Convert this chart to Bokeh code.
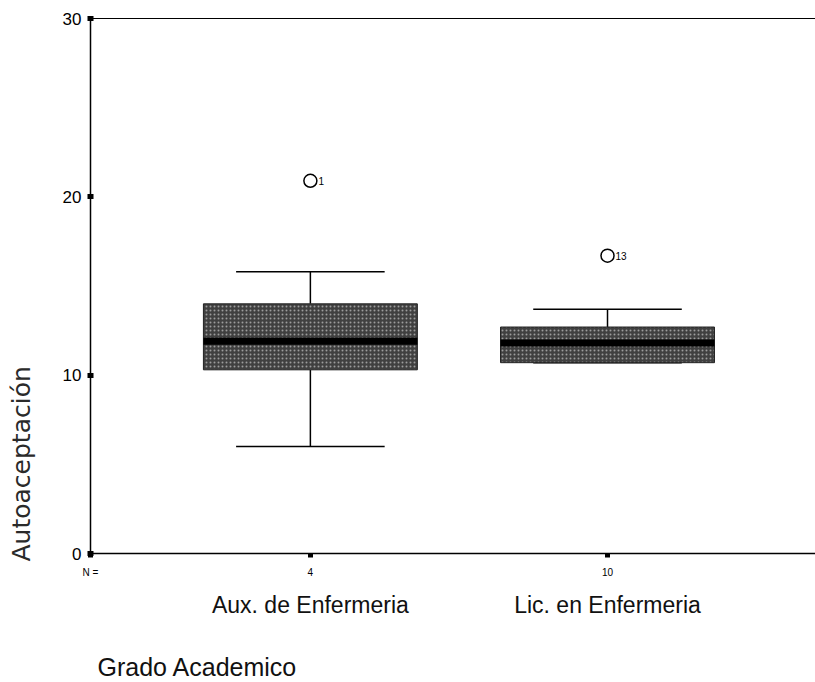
import numpy as np
from bokeh.plotting import figure
from bokeh.models import (ColumnDataSource, Range1d, FixedTicker, LinearAxis,
                          Title)
from bokeh.core.properties import value
from bokeh.embed import file_html
from bokeh.resources import INLINE

# ---- data ----
groups = ["Aux. de Enfermeria", "Lic. en Enfermeria"]
group_pos = [1, 2]
counts = ["4", "10"]
lower_whisker = [6.0, 10.7]
q1 = [10.3, 10.7]
median = [11.9, 11.8]
q3 = [14.0, 12.7]
upper_whisker = [15.8, 13.7]
outlier_x = [1, 2]
outlier_y = [20.9, 16.7]
outlier_id = ["1", "13"]
y_ticks = [0, 10, 20, 30]
x_start, x_end = 0.26, 2.70

box_w = 0.72
cap_w = 0.5

xs = np.array(group_pos, dtype=float)
src = ColumnDataSource(dict(
    x=xs, q1=q1, q3=q3, med=median, lo=lower_whisker, hi=upper_whisker,
    cap_l=xs - cap_w / 2, cap_r=xs + cap_w / 2,
    box_l=xs - box_w / 2, box_r=xs + box_w / 2,
))
out_src = ColumnDataSource(dict(x=outlier_x, y=outlier_y, t=outlier_id))

p = figure(width=815, height=682, output_backend="svg", toolbar_location=None,
           x_range=Range1d(x_start, x_end), y_range=Range1d(0, 30),
           x_axis_type=None, y_axis_type=None,
           min_border_left=90, min_border_right=0, min_border_top=18,
           min_border_bottom=129)
p.outline_line_color = None
p.grid.visible = False
p.background_fill_color = "white"
p.border_fill_color = "white"

FONT = "Liberation Sans"


def spacer(size):
    """An empty axis used only to reserve room in a side panel."""
    a = LinearAxis(ticker=FixedTicker(ticks=[]))
    a.axis_line_color = None
    a.major_tick_line_color = None
    a.minor_tick_line_color = None
    a.axis_label = " "
    a.axis_label_standoff = size
    a.axis_label_text_font_size = "1px"
    a.axis_label_text_color = "white"
    return a


# left axis
ya = LinearAxis(ticker=FixedTicker(ticks=y_ticks))
ya.axis_line_color = "black"
ya.axis_line_width = 1.5
ya.major_tick_in = 3
ya.major_tick_out = 3
ya.major_tick_line_width = 5
ya.minor_tick_line_color = None
ya.major_label_standoff = 6
ya.major_label_text_font = FONT
ya.major_label_text_font_size = "17px"
ya.major_label_text_color = "black"
p.add_layout(ya, "left")
p.add_layout(spacer(18), "left")

# y title (left panel, anchored near the bottom like the reference)
p.add_layout(Title(text="Autoaceptación", align="left", offset=-8,
                   text_font="DejaVu Sans", text_font_size="25px",
                   text_font_style="normal", text_color="#2a2a2a",
                   standoff=4), "left")

# top border line
ta = LinearAxis(ticker=FixedTicker(ticks=[]))
ta.axis_line_color = "black"
ta.axis_line_width = 1.2
ta.major_tick_line_color = None
ta.minor_tick_line_color = None
ta.major_label_text_font_size = "0px"
p.add_layout(ta, "above")

# bottom axis with counts ("N =" sits at the corner)
count_ticks = [x_start] + group_pos
count_labels = {x_start: "N ="}
count_labels.update({g: c for g, c in zip(group_pos, counts)})
xa = LinearAxis(ticker=FixedTicker(ticks=count_ticks),
                major_label_overrides=count_labels)
xa.axis_line_color = "black"
xa.axis_line_width = 1.5
xa.major_tick_in = 0
xa.major_tick_out = 4
xa.major_tick_line_width = 5
xa.minor_tick_line_color = None
xa.major_label_standoff = 9
xa.major_label_text_font = FONT
xa.major_label_text_font_size = "10px"
xa.major_label_text_color = "black"
p.add_layout(xa, "below")

# second bottom axis with group names
xa2 = LinearAxis(ticker=FixedTicker(ticks=group_pos),
                 major_label_overrides={g: n for g, n in zip(group_pos, groups)})
xa2.axis_line_color = None
xa2.major_tick_line_color = None
xa2.minor_tick_line_color = None
xa2.major_label_standoff = 5
xa2.major_label_text_font = FONT
xa2.major_label_text_font_size = "23px"
xa2.major_label_text_color = "#111111"
p.add_layout(xa2, "below")
p.add_layout(spacer(26), "below")

# x title, left aligned
p.add_layout(Title(text="Grado Academico", align="left", offset=7,
                   text_font=FONT, text_font_size="25px",
                   text_font_style="normal", text_color="#111111",
                   standoff=0), "below")

# whiskers
p.segment(x0="x", y0="q3", x1="x", y1="hi", source=src, line_color="black", line_width=1.5)
p.segment(x0="x", y0="q1", x1="x", y1="lo", source=src, line_color="black", line_width=1.5)
p.segment(x0="cap_l", y0="hi", x1="cap_r", y1="hi", source=src, line_color="black", line_width=1.5)
p.segment(x0="cap_l", y0="lo", x1="cap_r", y1="lo", source=src, line_color="black", line_width=1.5)

# boxes
p.vbar(x="x", bottom="q1", top="q3", width=box_w, source=src,
       fill_color="#404040", line_color="#222222", line_width=1,
       hatch_pattern="dot", hatch_color="#d8d8d8", hatch_scale=4,
       hatch_weight=1, hatch_alpha=0.6)
# medians
p.segment(x0="box_l", y0="med", x1="box_r", y1="med", source=src,
          line_color="black", line_width=7)

# outliers
p.scatter(x="x", y="y", source=out_src, marker="circle", size=13,
          fill_color=None, line_color="black", line_width=1.5)
p.text(x="x", y="y", text="t", source=out_src, x_offset=8,
       text_font=value(FONT), text_font_size="10px", text_baseline="middle",
       text_color="black")

open("out.html", "w").write(file_html(p, INLINE))
